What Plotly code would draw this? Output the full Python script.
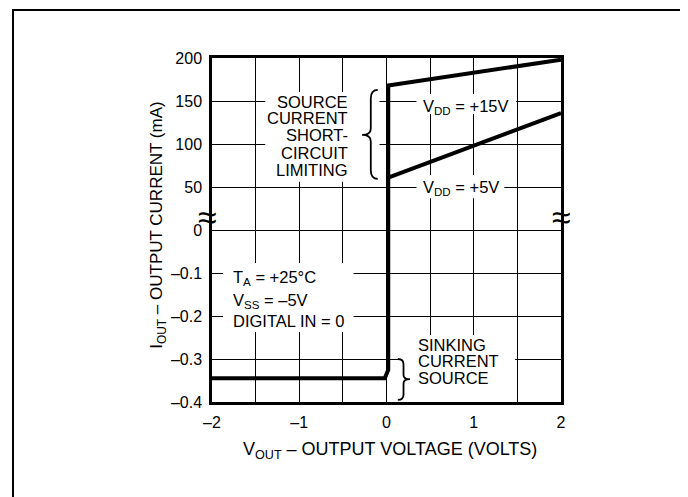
import plotly.graph_objects as go

# ---- data ----
vout_15 = [-2.0, -0.02, 0.02, 0.02, 2.0]
iout_15 = [-0.345, -0.345, -0.325, 168, 198]
vout_5 = [0.02, 2.0]
iout_5 = [61, 136]

ytick_values = [200, 150, 100, 50, 0, -0.1, -0.2, -0.3, -0.4]
ytick_labels = ["200", "150", "100", "50", "0", "–0.1", "–0.2", "–0.3", "–0.4"]
xgrid_values = [-2, -1.5, -1, -0.5, 0, 0.5, 1, 1.5, 2]
xtick_labels = ["–2", "", "–1", "", "0", "", "1", "", "2"]


def pos(v):
    """Broken y axis: positive part in steps of 50, negative part in steps of 0.1."""
    return v / 50.0 if v >= 0 else v / 0.1


FONT = "Liberation Sans, Arial, Helvetica, sans-serif"
FS = 16.5
TFS = 16

fig = go.Figure()
fig.add_trace(go.Scatter(x=vout_15, y=[pos(v) for v in iout_15], mode="lines",
                         line=dict(color="black", width=4), showlegend=False,
                         hoverinfo="skip"))
fig.add_trace(go.Scatter(x=vout_5, y=[pos(v) for v in iout_5], mode="lines",
                         line=dict(color="black", width=4), showlegend=False,
                         hoverinfo="skip"))


def txt(text, x, y, xanchor="left", size=FS):
    return dict(text=text, x=x, y=y, xref="x", yref="y", showarrow=False,
                xanchor=xanchor, yanchor="middle",
                font=dict(family=FONT, size=size, color="black"))


ann = []
# source block (right aligned)
for t, y in zip(["SOURCE", "CURRENT", "SHORT-", "CIRCUIT", "LIMITING"],
                [2.97, 2.60, 2.20, 1.78, 1.39]):
    ann.append(txt(t, -0.42, y, "right"))
# conditions block
ann.append(txt("T<sub>A</sub> = +25°C", -1.78, -1.12))
ann.append(txt("V<sub>SS</sub> = –5V", -1.78, -1.65))
ann.append(txt("DIGITAL IN = 0", -1.78, -2.11))
# sinking block
for t, y in zip(["SINKING", "CURRENT", "SOURCE"], [-2.67, -3.05, -3.44]):
    ann.append(txt(t, 0.34, y))
# VDD labels
ann.append(txt("V<sub>DD</sub> = +15V", 0.40, 2.86))
ann.append(txt("V<sub>DD</sub> = +5V", 0.40, 0.98))

# axis titles (paper coords)
ann.append(dict(text="I<sub>OUT</sub> – OUTPUT CURRENT (mA)", x=-0.155, y=0.515,
                xref="paper", yref="paper", showarrow=False, textangle=-90,
                xanchor="center", yanchor="middle",
                font=dict(family=FONT, size=17, color="black")))
ann.append(dict(text="V<sub>OUT</sub> – OUTPUT VOLTAGE (VOLTS)", x=0.51, y=-0.14,
                xref="paper", yref="paper", showarrow=False,
                xanchor="center", yanchor="middle",
                font=dict(family=FONT, size=18, color="black")))
# axis break marks
for xp in [-0.012, 1.0]:
    ann.append(dict(text="≈", x=xp, y=0.538, xref="paper", yref="paper",
                    showarrow=False, xanchor="center", yanchor="middle",
                    font=dict(family=FONT, size=34, color="black")))

shapes = []
# white masks behind the text blocks (between gridlines and traces)
for x0, x1, y0, y1 in [(-1.39, -0.08, 1.12, 3.21),     # source block + brace
                       (-1.874, -0.377, -2.372, -0.767),  # conditions
                       (0.149, 1.474, -4.0, -2.442),    # sinking block
                       (0.343, 1.486, 2.70, 3.16),      # VDD +15V
                       (0.343, 1.35, 0.74, 1.28)]:      # VDD +5V
    shapes.append(dict(type="rect", xref="x", yref="y", x0=x0, x1=x1, y0=y0, y1=y1,
                       fillcolor="white", line=dict(width=0), layer="between"))
# "{" brace
xt, xs, xm = -0.10, -0.18, -0.28
yt, ym, yb = 3.26, 2.21, 1.19
shapes.append(dict(type="path", xref="x", yref="y",
                   path=(f"M {xt},{yt} Q {xs},{yt} {xs},{yt-0.2} L {xs},{ym+0.15} "
                         f"Q {xs},{ym} {xm},{ym} Q {xs},{ym} {xs},{ym-0.15} "
                         f"L {xs},{yb+0.2} Q {xs},{yb} {xt},{yb}"),
                   line=dict(color="black", width=1.8)))
# "}" brace
xt, xs, xm = 0.13, 0.195, 0.27
yt, ym, yb = -3.0, -3.47, -3.95
shapes.append(dict(type="path", xref="x", yref="y",
                   path=(f"M {xt},{yt} Q {xs},{yt} {xs},{yt-0.12} L {xs},{ym+0.1} "
                         f"Q {xs},{ym} {xm},{ym} Q {xs},{ym} {xs},{ym-0.1} "
                         f"L {xs},{yb+0.12} Q {xs},{yb} {xt},{yb}"),
                   line=dict(color="black", width=1.8)))
# outer frame, open at bottom
shapes.append(dict(type="rect", xref="paper", yref="paper",
                   x0=(13 - 212) / 349, x1=(683 - 212) / 349,
                   y0=(402 - 540) / 344, y1=(402 - 10) / 344,
                   line=dict(color="black", width=2), layer="below"))

# page has an 8px body margin, so the figure is 8px smaller and margins shifted
fig.update_layout(
    width=680, height=489,
    margin=dict(l=204, r=127, t=50, b=95),
    paper_bgcolor="white", plot_bgcolor="white",
    font=dict(family=FONT, size=TFS, color="black"),
    annotations=ann, shapes=shapes,
    xaxis=dict(range=[-2, 2], tickvals=xgrid_values, ticktext=xtick_labels,
               showgrid=True, gridcolor="black", gridwidth=1, zeroline=False,
               showline=True, mirror=True, linecolor="black", linewidth=2.5,
               ticks="", ticklabelstandoff=4, fixedrange=True,
               tickfont=dict(family=FONT, size=TFS, color="black")),
    yaxis=dict(range=[-4, 4], tickvals=[pos(v) for v in ytick_values],
               ticktext=ytick_labels,
               showgrid=True, gridcolor="black", gridwidth=1, zeroline=False,
               showline=True, mirror=True, linecolor="black", linewidth=2.5,
               ticks="", ticklabelstandoff=4, fixedrange=True,
               tickfont=dict(family=FONT, size=TFS, color="black")),
)

fig.write_html("out.html")
